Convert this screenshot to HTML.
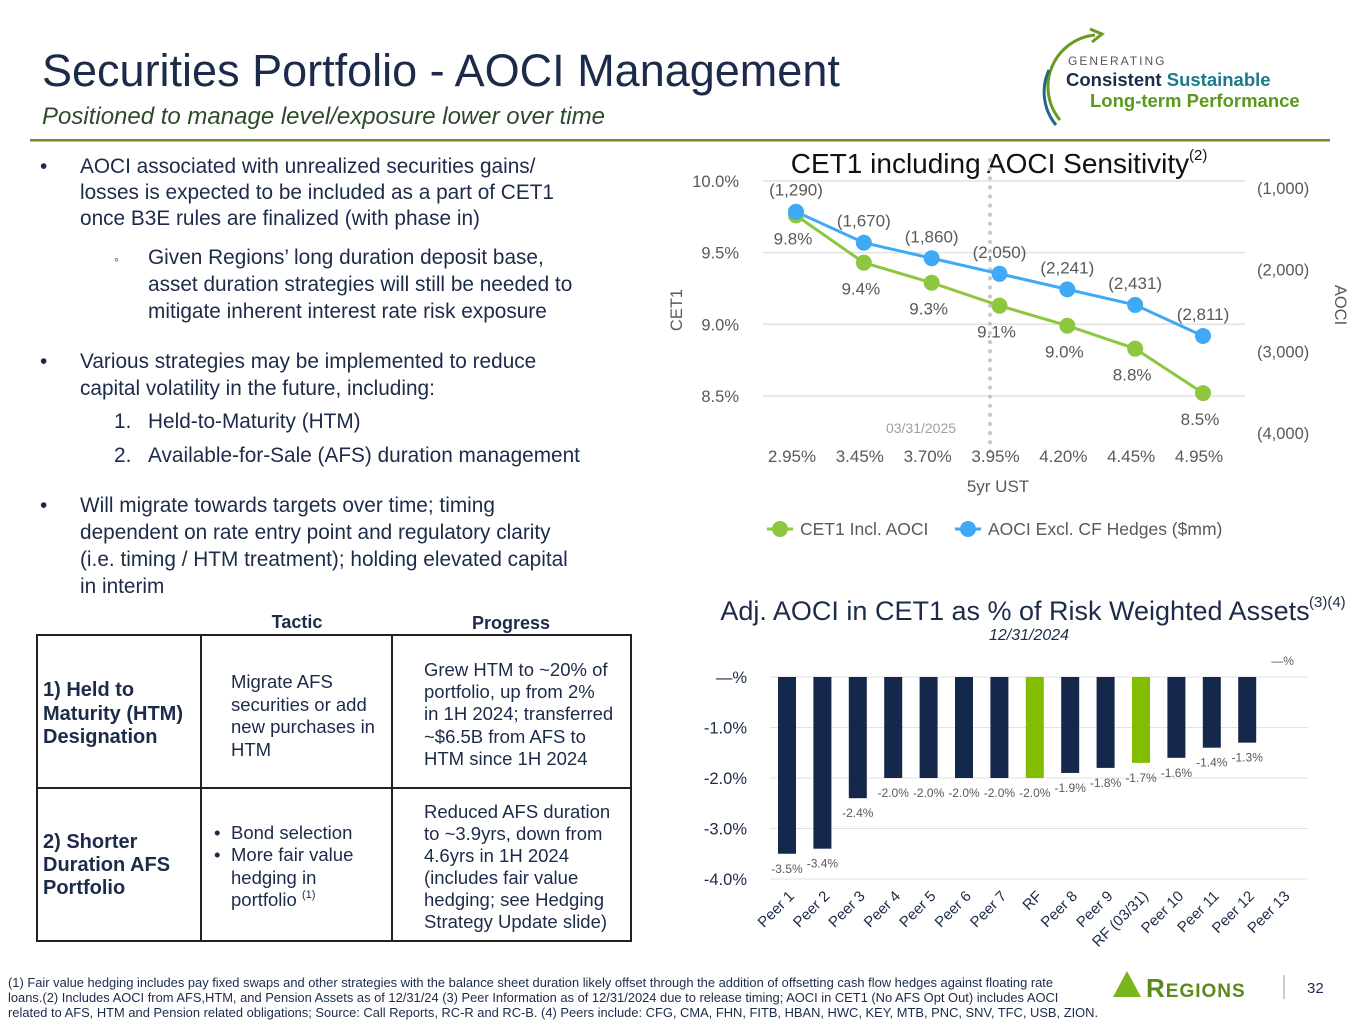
<!DOCTYPE html>
<html><head><meta charset="utf-8"><style>
html,body{margin:0;padding:0;background:#fff}
svg{display:block}
text{font-family:"Liberation Sans",sans-serif}
.nv{fill:#1c2b4a}
.gy{fill:#595959}
</style></head><body>
<svg id="page" width="1365" height="1024" viewBox="0 0 1365 1024" xmlns="http://www.w3.org/2000/svg">
<text x="42" y="86" font-size="45" class="nv">Securities Portfolio - AOCI Management</text>
<text x="42" y="124" font-size="24" font-style="italic" fill="#2e4a2a">Positioned to manage level/exposure lower over time</text>
<rect x="30" y="139" width="1300" height="2.5" fill="#6f8f2a"/>
<g>
<path d="M1095 35 A52 52 0 0 0 1060 120" fill="none" stroke="#6a9a1f" stroke-width="3"/>
<path d="M1049 70 A52 52 0 0 0 1056 125" fill="none" stroke="#1d6a86" stroke-width="3"/>
<path d="M1090 29 L1102 34 L1092 42" fill="none" stroke="#6a9a1f" stroke-width="3"/>
<text x="1068" y="65" font-size="12" fill="#555" letter-spacing="2">GENERATING</text>
<text x="1066" y="86" font-size="18.5" font-weight="bold" fill="#1c2b4a">Consistent <tspan fill="#1d7a8a">Sustainable</tspan></text>
<text x="1090" y="107" font-size="18.5" font-weight="bold" fill="#5a9a1a">Long-term Performance</text>
</g>
<g font-size="20.8" class="nv">
<text x="40" y="173">•</text>
<text x="80" y="173">AOCI associated with unrealized securities gains/</text>
<text x="80" y="199">losses is expected to be included as a part of CET1</text>
<text x="80" y="225">once B3E rules are finalized (with phase in)</text>
<text x="114" y="264" font-size="14">◦</text>
<text x="148" y="264">Given Regions’ long duration deposit base,</text>
<text x="148" y="291">asset duration strategies will still be needed to</text>
<text x="148" y="318">mitigate inherent interest rate risk exposure</text>
<text x="40" y="368">•</text>
<text x="80" y="368">Various strategies may be implemented to reduce</text>
<text x="80" y="395">capital volatility in the future, including:</text>
<text x="114" y="428">1.</text><text x="148" y="428">Held-to-Maturity (HTM)</text>
<text x="114" y="462">2.</text><text x="148" y="462">Available-for-Sale (AFS) duration management</text>
<text x="40" y="512">•</text>
<text x="80" y="512">Will migrate towards targets over time; timing</text>
<text x="80" y="539">dependent on rate entry point and regulatory clarity</text>
<text x="80" y="566">(i.e. timing / HTM treatment); holding elevated capital</text>
<text x="80" y="593">in interim</text>
</g>
<g class="nv">
<text x="297" y="628" font-size="18" font-weight="bold" text-anchor="middle">Tactic</text>
<text x="511" y="629" font-size="18" font-weight="bold" text-anchor="middle">Progress</text>
<rect x="37" y="635" width="594" height="306" fill="none" stroke="#222" stroke-width="2"/>
<line x1="201" y1="635" x2="201" y2="941" stroke="#222" stroke-width="2"/>
<line x1="392" y1="635" x2="392" y2="941" stroke="#222" stroke-width="2"/>
<line x1="37" y1="788" x2="631" y2="788" stroke="#222" stroke-width="2"/>
<g font-size="20" font-weight="bold">
<text x="43" y="696">1)  Held to</text><text x="43" y="720">Maturity (HTM)</text><text x="43" y="743">Designation</text>
<text x="43" y="848">2)  Shorter</text><text x="43" y="871">Duration AFS</text><text x="43" y="894">Portfolio</text>
</g>
<g font-size="18.5">
<text x="231" y="688">Migrate AFS</text><text x="231" y="711">securities or add</text><text x="231" y="733">new purchases in</text><text x="231" y="756">HTM</text>
<text x="214" y="839">•</text><text x="231" y="839">Bond selection</text>
<text x="214" y="861">•</text><text x="231" y="861">More fair value</text><text x="231" y="884">hedging in</text><text x="231" y="906">portfolio <tspan font-size="11" dy="-8">(1)</tspan></text>
<text x="424" y="676">Grew HTM to ~20% of</text><text x="424" y="698">portfolio, up from 2%</text><text x="424" y="720">in 1H 2024; transferred</text><text x="424" y="743">~$6.5B from AFS to</text><text x="424" y="765">HTM since 1H 2024</text>
<text x="424" y="818">Reduced AFS duration</text><text x="424" y="840">to ~3.9yrs, down from</text><text x="424" y="862">4.6yrs in 1H 2024</text><text x="424" y="884">(includes fair value</text><text x="424" y="906">hedging; see Hedging</text><text x="424" y="928">Strategy Update slide)</text>
</g>
</g>
<g id="lineChart"></g>
<g id="barChart"></g>
<g font-size="12.9" class="nv">
<text x="8" y="987">(1) Fair value hedging includes pay fixed swaps and other strategies with the balance sheet duration likely offset through the addition of offsetting cash flow hedges against floating rate</text>
<text x="8" y="1002">loans.(2) Includes AOCI from AFS,HTM, and Pension Assets as of 12/31/24 (3) Peer Information as of 12/31/2024 due to release timing; AOCI in CET1 (No AFS Opt Out) includes AOCI</text>
<text x="8" y="1017">related to AFS, HTM and Pension related obligations; Source: Call Reports, RC-R and RC-B. (4) Peers include: CFG, CMA, FHN, FITB, HBAN, HWC, KEY, MTB, PNC, SNV, TFC, USB, ZION.</text>
</g>
<g>
<polygon points="1113,997 1127,971 1141,997" fill="#7ab51d"/>
<text x="1146" y="997" font-family="Liberation Serif,serif" font-size="26" font-weight="bold" fill="#5a8a1a" letter-spacing="1">R<tspan font-size="19">EGIONS</tspan></text>
<line x1="1284" y1="975" x2="1284" y2="999" stroke="#999" stroke-width="1"/>
</g>
<text x="1307" y="993" font-size="15" class="nv">32</text>
</svg>
<script>
const NS='http://www.w3.org/2000/svg';
function mk(p,tag,attrs,txt){const e=document.createElementNS(NS,tag);for(const k in attrs)e.setAttribute(k,attrs[k]);if(txt!==undefined)e.textContent=txt;p.appendChild(e);return e;}

// ---- line chart data ----
const ustCats=['2.95%','3.45%','3.70%','3.95%','4.20%','4.45%','4.95%'];
const cet1Vals=[9.76,9.43,9.29,9.13,8.99,8.83,8.52];
const cet1Labels=['9.8%','9.4%','9.3%','9.1%','9.0%','8.8%','8.5%'];
const aociVals=[-1290,-1670,-1860,-2050,-2241,-2431,-2811];
const aociLabels=['(1,290)','(1,670)','(1,860)','(2,050)','(2,241)','(2,431)','(2,811)'];
const leftTicks=[10.0,9.5,9.0,8.5];
const leftTickLabels=['10.0%','9.5%','9.0%','8.5%'];
const rightTicks=[-1000,-2000,-3000,-4000];
const rightTickLabels=['(1,000)','(2,000)','(3,000)','(4,000)'];

// ---- bar chart data ----
const peerCats=['Peer 1','Peer 2','Peer 3','Peer 4','Peer 5','Peer 6','Peer 7','RF','Peer 8','Peer 9','RF (03/31)','Peer 10','Peer 11','Peer 12','Peer 13'];
const peerVals=[-3.5,-3.4,-2.4,-2.0,-2.0,-2.0,-2.0,-2.0,-1.9,-1.8,-1.7,-1.6,-1.4,-1.3,0];
const peerLabels=['-3.5%','-3.4%','-2.4%','-2.0%','-2.0%','-2.0%','-2.0%','-2.0%','-1.9%','-1.8%','-1.7%','-1.6%','-1.4%','-1.3%','—%'];
const peerHighlight=[0,0,0,0,0,0,0,1,0,0,1,0,0,0,0];
const barTicks=[0,-1,-2,-3,-4];
const barTickLabels=['—%','-1.0%','-2.0%','-3.0%','-4.0%'];

// line chart
(function(){
const g=document.getElementById('lineChart');
const x0=796,dx=(1203-796)/6;
const xs=i=>x0+i*dx;
const yL=v=>181+(10-v)*143.3;
const yR=v=>188+(-1000-v)*0.0817;
mk(g,'text',{x:990,y:173,'font-size':28,'text-anchor':'middle',fill:'#111',},'CET1 including AOCI Sensitivity');
mk(g,'text',{x:1189,y:160,'font-size':15,fill:'#111',},'(2)');
leftTicks.forEach((t,i)=>{
 const y=yL(t);
 const l=mk(g,'line',{x1:763,x2:1245,y1:y,y2:y,stroke:'#e2e2e2','stroke-width':1.5});
 
 
 const tx=mk(g,'text',{x:739,y:y+6,'font-size':16.5,'text-anchor':'end',fill:'#595959'},leftTickLabels[i]);
 
 
});
rightTicks.forEach((t,i)=>{
 const tx=mk(g,'text',{x:1257,y:yR(t)+6,'font-size':16.5,fill:'#595959'},rightTickLabels[i]);
 
 
});
mk(g,'line',{x1:990,x2:990,y1:160,y2:455,stroke:'#c8c8c8','stroke-width':4,'stroke-dasharray':'0.1 9','stroke-linecap':'round',});
mk(g,'text',{x:921,y:433,'font-size':14,'text-anchor':'middle',fill:'#a0a0a0',},'03/31/2025');
mk(g,'text',{x:682,y:310,'font-size':16.5,'text-anchor':'middle',fill:'#595959',transform:'rotate(-90 682 310)',},'CET1');
mk(g,'text',{x:1335,y:305,'font-size':16.5,'text-anchor':'middle',fill:'#595959',transform:'rotate(90 1335 305)',},'AOCI');
ustCats.forEach((c,i)=>{
 const tx=mk(g,'text',{x:xs(i)-4,y:462,'font-size':17,'text-anchor':'middle',fill:'#595959'},c);
 
 
});
mk(g,'text',{x:998,y:492,'font-size':17,'text-anchor':'middle',fill:'#595959',},'5yr UST');
const gp=cet1Vals.map((v,i)=>xs(i)+','+yL(v)).join(' ');
mk(g,'polyline',{points:gp,fill:'none',stroke:'#8dc63f','stroke-width':3,});
const bp=aociVals.map((v,i)=>xs(i)+','+yR(v)).join(' ');
mk(g,'polyline',{points:bp,fill:'none',stroke:'#3fa9f5','stroke-width':3,});
cet1Vals.forEach((v,i)=>{
 const c=mk(g,'circle',{cx:xs(i),cy:yL(v),r:8,fill:'#8dc63f'});
 
 
 const t=mk(g,'text',{x:xs(i)-3,y:yL(v)+(i==0?29:32),'font-size':17,'text-anchor':'middle',fill:'#595959'},cet1Labels[i]);
 
 
});
aociVals.forEach((v,i)=>{
 const c=mk(g,'circle',{cx:xs(i),cy:yR(v),r:8,fill:'#3fa9f5'});
 
 
 const t=mk(g,'text',{x:xs(i),y:yR(v)-16,'font-size':17,'text-anchor':'middle',fill:'#595959'},aociLabels[i]);
 
 
});
const lg1=mk(g,'g',{});
mk(lg1,'line',{x1:767,x2:793,y1:529,y2:529,stroke:'#8dc63f','stroke-width':3});
mk(lg1,'circle',{cx:780,cy:529,r:8,fill:'#8dc63f'});
mk(lg1,'text',{x:800,y:535,'font-size':17.5,fill:'#595959'},'CET1 Incl. AOCI');
const lg2=mk(g,'g',{});
mk(lg2,'line',{x1:955,x2:981,y1:529,y2:529,stroke:'#3fa9f5','stroke-width':3});
mk(lg2,'circle',{cx:968,cy:529,r:8,fill:'#3fa9f5'});
mk(lg2,'text',{x:988,y:535,'font-size':17.5,fill:'#595959'},'AOCI Excl. CF Hedges ($mm)');
})();

// bar chart
(function(){
const g=document.getElementById('barChart');
const x0=787,dx=35.4,bw=18;
const xs=i=>x0+i*dx;
const y=v=>677-v*50.5;
mk(g,'text',{x:1015,y:620,'font-size':27,'text-anchor':'middle',class:'nv',},'Adj. AOCI in CET1 as % of Risk Weighted Assets');
mk(g,'text',{x:1309,y:607,'font-size':15,class:'nv',},'(3)(4)');
mk(g,'text',{x:1029,y:640,'font-size':16,'font-style':'italic','text-anchor':'middle',class:'nv',},'12/31/2024');
barTicks.forEach((t,i)=>{
 const l=mk(g,'line',{x1:770,x2:1308,y1:y(t),y2:y(t),stroke:'#e2e2e2','stroke-width':1});
 
 
 const tx=mk(g,'text',{x:747,y:y(t)+6,'font-size':16.5,'text-anchor':'end',class:'nv'},barTickLabels[i]);
 
 
});
peerVals.forEach((v,i)=>{
 const cx=xs(i);
 if(v!==0){
  const r=mk(g,'rect',{x:cx-bw/2,y:y(0),width:bw,height:y(v)-y(0),fill:peerHighlight[i]?'#84bd00':'#14284b'});
  
  
 }
 const ly=v===0?y(0)-12:y(v)+19;
 const t=mk(g,'text',{x:cx,y:ly,'font-size':12,'text-anchor':'middle',fill:'#595959'},peerLabels[i]);
 
 
 const c=mk(g,'text',{x:cx+8,y:897,'font-size':15,'text-anchor':'end',class:'nv',transform:'rotate(-45 '+(cx+8)+' 897)'},peerCats[i]);
 
 
});
})();
</script>
</body></html>
